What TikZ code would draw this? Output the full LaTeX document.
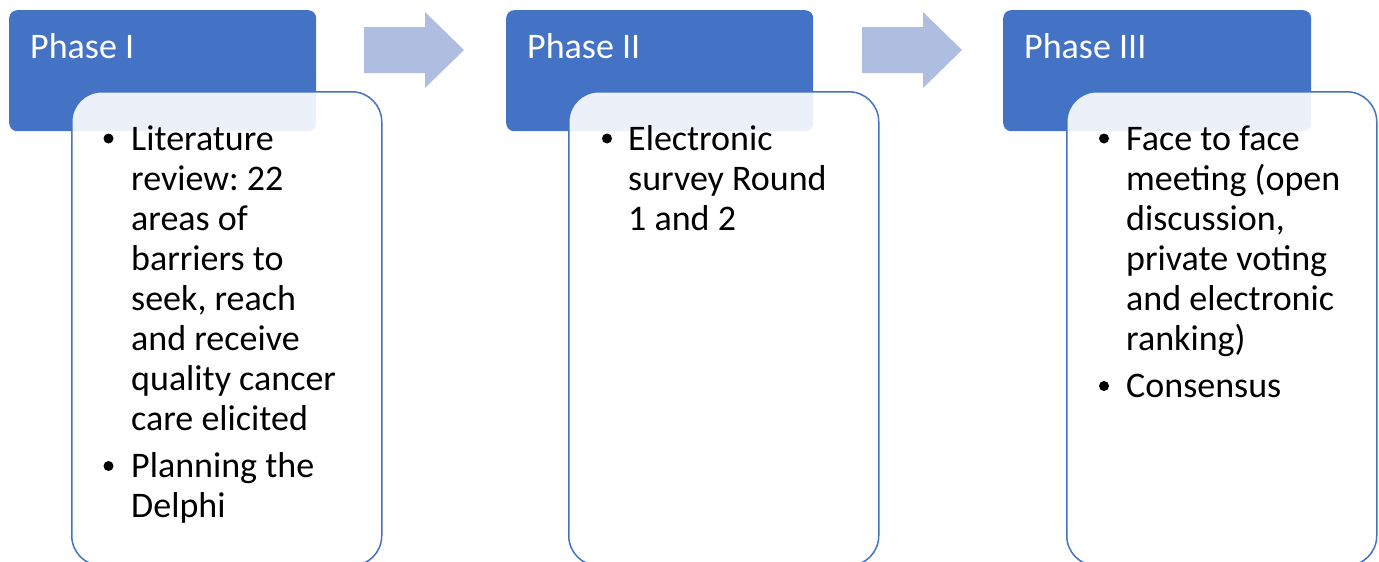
\documentclass[tikz,border=0pt]{standalone}
\usepackage{fontspec}
\setmainfont{Carlito}
\definecolor{hdr}{HTML}{4472C4}
\definecolor{arr}{HTML}{AFBDE0}
\newcommand{\lines}[1]{\parbox[t]{250pt}{\raggedright\frenchspacing\fontsize{36}{40}\selectfont #1}}
\begin{document}
\begin{tikzpicture}[x=1pt,y=-1pt,
  hdrbox/.style={fill=hdr, rounded corners=8pt, minimum width=#1, minimum height=121pt, anchor=north west, inner sep=0pt},
  bodybox/.style={fill=white, fill opacity=0.9, draw=hdr, line width=1.5pt, rounded corners=30pt, minimum width=310pt, minimum height=474pt, anchor=north west, inner sep=0pt},
  hdrtext/.style={anchor=base west, text=white, font=\fontsize{36}{40}\selectfont, inner sep=0pt},
  bultext/.style={anchor=base west, inner sep=0pt},
  bul/.style={circle, fill=black, minimum size=10pt, inner sep=0pt},
  arrowshape/.style={fill=arr, draw=none}
]
\useasboundingbox (0,0) rectangle (1379,562);
% Phase I
\node[hdrbox=307pt] (h1) at (9,10) {};
\node[hdrtext] (t1) at (30,58) {Phase I};
\node[bodybox] (b1) at (71,91) {};
\node[bul] (p1a) at (108.5,138.5) {};
\node[bultext] (i1a) at (131,150) {\lines{Literature\\review: 22\\areas of\\barriers to\\seek, reach\\and receive\\quality cancer\\care elicited}};
\node[bul] (p1b) at (108.5,466) {};
\node[bultext] (i1b) at (131,477) {\lines{Planning the\\Delphi}};
% Arrow 1
\path[arrowshape] (364,27) -- (425,27) -- (425,12) -- (464,50) -- (425,88) -- (425,73) -- (364,73) -- cycle;
% Phase II
\node[hdrbox=307pt] (h2) at (506,10) {};
\node[hdrtext] (t2) at (527,58) {Phase II};
\node[bodybox] (b2) at (568,91) {};
\node[bul] (p2a) at (607,138.5) {};
\node[bultext] (i2a) at (628,150) {\lines{Electronic\\survey Round\\1 and 2}};
% Arrow 2
\path[arrowshape] (862,27) -- (923,27) -- (923,12) -- (962,50) -- (923,88) -- (923,73) -- (862,73) -- cycle;
% Phase III
\node[hdrbox=308pt] (h3) at (1003,10) {};
\node[hdrtext] (t3) at (1024,58) {Phase III};
\node[bodybox] (b3) at (1066,91) {};
\node[bul] (p3a) at (1104,138.5) {};
\node[bultext] (i3a) at (1126,150) {\lines{Face to face\\meeting (open\\discussion,\\private voting\\and electronic\\ranking)}};
\node[bul] (p3b) at (1104,386) {};
\node[bultext] (i3b) at (1126,397) {\lines{Consensus}};
\end{tikzpicture}
\end{document}
